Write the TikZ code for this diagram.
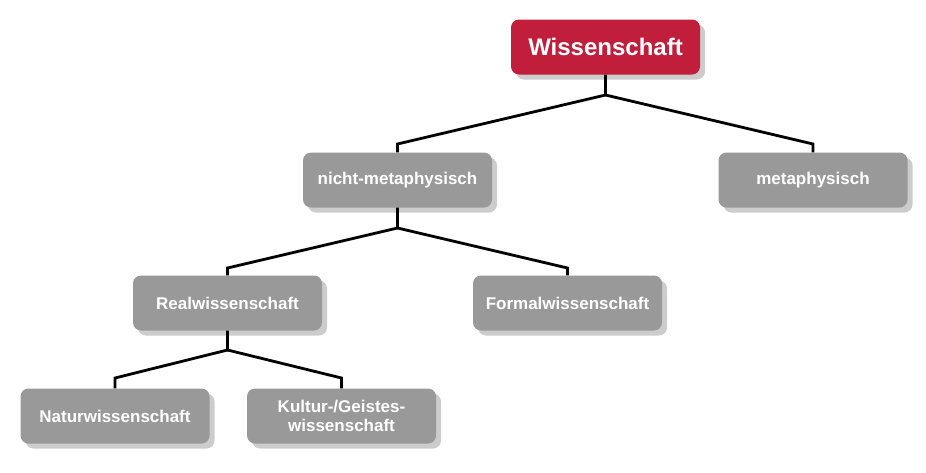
\documentclass[tikz,border=0pt]{standalone}
\usepackage{fontspec}
\setmainfont{Liberation Sans}
\definecolor{rootred}{HTML}{C11E3C}
\definecolor{boxgray}{HTML}{999999}
\definecolor{shadowgray}{HTML}{CCCCCC}
\tikzset{
  box/.style={rectangle, rounded corners=8pt, minimum width=189pt, minimum height=55pt,
    inner sep=0pt, fill=boxgray, text=white, align=center,
    font=\bfseries\fontsize{17}{19.5}\selectfont,
    preaction={fill=shadowgray, transform canvas={xshift=5pt, yshift=-5pt}}},
  rootbox/.style={box, fill=rootred, font=\bfseries\fontsize{24}{28}\selectfont},
  link/.style={draw=black, line width=2.8pt, line join=miter}
}
\begin{document}
\begin{tikzpicture}[x=1pt, y=-1pt]
\useasboundingbox (0,0) rectangle (926,472);
\node[rootbox] (root) at (605.5,47) {Wissenschaft};
\node[box] (nm) at (397.5,180) {nicht-metaphysisch};
\node[box] (mp) at (813,180) {metaphysisch};
\node[box] (real) at (227.5,303) {Realwissenschaft};
\node[box] (formal) at (567.5,303) {Formalwissenschaft};
\node[box] (natur) at (115,416) {Naturwissenschaft};
\node[box] (kultur) at (341.5,416) {Kultur-/Geistes-\\wissenschaft};
% junctions and elbows
\coordinate (j1) at (605.5,95);
\coordinate (e1l) at (397.5,144);
\coordinate (e1r) at (813,144);
\coordinate (j2) at (397.5,228);
\coordinate (e2l) at (227.5,268);
\coordinate (e2r) at (567.5,268);
\coordinate (j3) at (227.5,350);
\coordinate (e3l) at (115,378);
\coordinate (e3r) at (341.5,378);
\draw[link] (root.south) -- (j1) -- (e1l) -- (nm.north);
\draw[link] (j1) -- (e1r) -- (mp.north);
\draw[link] (nm.south) -- (j2) -- (e2l) -- (real.north);
\draw[link] (j2) -- (e2r) -- (formal.north);
\draw[link] (real.south) -- (j3) -- (e3l) -- (natur.north);
\draw[link] (j3) -- (e3r) -- (kultur.north);
\end{tikzpicture}
\end{document}
